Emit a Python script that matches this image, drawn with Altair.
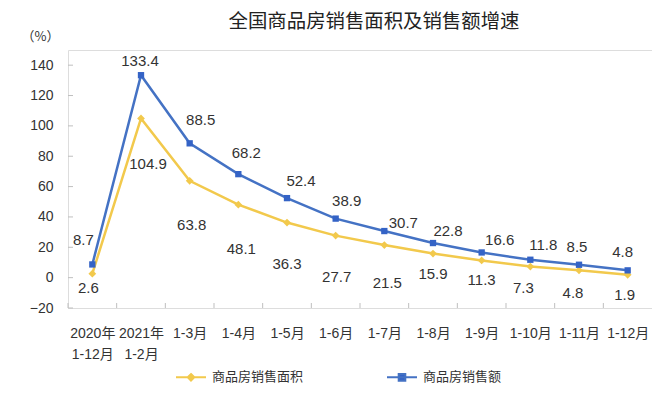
import altair as alt
import pandas as pd

categories = ["2020年\n1-12月", "2021年\n1-2月", "1-3月", "1-4月", "1-5月", "1-6月",
              "1-7月", "1-8月", "1-9月", "1-10月", "1-11月", "1-12月"]
series_names = ["商品房销售面积", "商品房销售额"]
area_growth = [2.6, 104.9, 63.8, 48.1, 36.3, 27.7, 21.5, 15.9, 11.3, 7.3, 4.8, 1.9]
sales_growth = [8.7, 133.4, 88.5, 68.2, 52.4, 38.9, 30.7, 22.8, 16.6, 11.8, 8.5, 4.8]
y_ticks = [-20, 0, 20, 40, 60, 80, 100, 120, 140]

# label nudges (pixels) reproducing the manual label placement of the source
area_label_dx = [-4, 7, 2, 3, 0, 1, 3, 0, 0, -7, -6, -3]
area_label_dy = [14, 46, 44, 44, 41, 41, 38, 20, 20, 21, 23, 20]
sales_label_dx = [-9, -1, 11, 8, 14, 11, 19, 15, 18, 13, -2, -5]
sales_label_dy = [-24, -14, -23, -21, -17, -18, -8, -12, -12, -15, -18, -18]

rows = []
for i, c in enumerate(categories):
    rows.append({"cat": c, "series": series_names[0], "value": area_growth[i],
                 "dx": area_label_dx[i], "dy": area_label_dy[i]})
    rows.append({"cat": c, "series": series_names[1], "value": sales_growth[i],
                 "dx": sales_label_dx[i], "dy": sales_label_dy[i]})
df = pd.DataFrame(rows)
ticks_df = pd.DataFrame({"t": y_ticks})
cat_df = pd.DataFrame({"cat": categories})

W, H = 584, 258
Y_MIN, Y_MAX = -20, 150
step = W / len(categories)
YELLOW = "#F2C94C"
BLUE = "#4472C4"
BLUE_MARK = "#3463C6"
DIGIT_FONT = "Liberation Sans, Noto Sans CJK SC"
CJK_FONT = "Noto Sans CJK SC"

xscale = alt.Scale(type="point", padding=0.5)
xaxis = alt.Axis(title=None, labelExpr="split(datum.label, '\\n')",
                 labelAngle=0, ticks=False, domain=False,
                 labelPadding=18, labelBaseline="top", labelLineHeight=21,
                 labelFont=DIGIT_FONT, labelFontSize=14, labelColor="#333333")
yscale = alt.Scale(domain=[Y_MIN, Y_MAX], nice=False, zero=False)
yaxis = alt.Axis(values=y_ticks, grid=False, ticks=False, domain=False,
                 title="（%）", titleAngle=0, titleX=-28, titleY=-14,
                 titleAlign="center", titleBaseline="middle",
                 titleFont=CJK_FONT, titleFontSize=13, titleFontWeight="normal",
                 titleColor="#333333",
                 labelPadding=15, labelFont=DIGIT_FONT, labelFontSize=14,
                 labelColor="#333333")

xenc = alt.X("cat:N", sort=categories, scale=xscale, axis=xaxis)
yenc = alt.Y("value:Q", scale=yscale, axis=yaxis)

base = alt.Chart(df)
area_base = base.transform_filter(alt.datum.series == series_names[0])
sales_base = base.transform_filter(alt.datum.series == series_names[1])

line_area = area_base.mark_line(strokeWidth=2.5, color=YELLOW).encode(x=xenc, y=yenc)
line_sales = sales_base.mark_line(strokeWidth=2.5, color=BLUE).encode(x=xenc, y=yenc)

pts_area = area_base.mark_point(shape="diamond", filled=True, size=60, opacity=1,
                                color=YELLOW).encode(x=xenc, y=yenc)
pts_sales = sales_base.mark_point(shape="square", filled=True, size=40, opacity=1,
                                  color=BLUE_MARK).encode(x=xenc, y=yenc)

# label anchor: pixel nudge converted through the y scale's resolution
px_per_unit = H / (Y_MAX - Y_MIN)
labels = base.transform_calculate(
    ly=f"datum.value - datum.dy / {px_per_unit}"
).mark_text(font="Liberation Sans", fontSize=15, color="#333333",
            align="center", baseline="middle").encode(
    x=xenc,
    y=alt.Y("ly:Q", scale=yscale, axis=yaxis),
    xOffset=alt.XOffset("dx:Q", scale=None),
    text=alt.Text("value:Q", format=".1f"),
)

ytick_rules = alt.Chart(ticks_df).mark_rule(color="#BFBFBF", strokeWidth=1).encode(
    y=alt.Y("t:Q", scale=yscale, axis=yaxis),
    x=alt.value(0), x2=alt.value(5),
)

xtick_rules = alt.Chart(cat_df).mark_rule(color="#BFBFBF", strokeWidth=1,
                                          xOffset=-step / 2).encode(
    x=alt.X("cat:N", sort=categories, scale=xscale, axis=xaxis),
    y=alt.value(H), y2=alt.value(H - 5),
)

legend_def = alt.Legend(title=None, orient="none", legendX=107, legendY=311,
                        direction="horizontal", symbolSize=900, symbolStrokeWidth=2,
                        symbolOpacity=1,
                        labelFont=CJK_FONT, labelFontSize=13, labelColor="#333333",
                        labelOffset=5, columnPadding=79)

legend_layer = base.mark_point(filled=True, size=10, opacity=0, strokeWidth=2).encode(
    x=xenc, y=yenc,
    color=alt.Color("series:N", scale=alt.Scale(domain=series_names,
                                                range=[YELLOW, BLUE_MARK]),
                    legend=legend_def),
    stroke=alt.Stroke("series:N", scale=alt.Scale(domain=series_names,
                                                  range=[YELLOW, BLUE]),
                      legend=legend_def),
    shape=alt.Shape("series:N", scale=alt.Scale(
        domain=series_names,
        range=["M-1,0H1M0,-0.22L0.22,0L0,0.22L-0.22,0Z",
               "M-1,0H1M-0.22,-0.22H0.22V0.22H-0.22Z"]),
        legend=legend_def),
)

chart = alt.layer(ytick_rules, xtick_rules, line_area, line_sales, pts_area, pts_sales,
                  labels, legend_layer).properties(
    width=W, height=H,
    autosize=alt.AutoSizeParams(type="none"),
    padding={"left": 60, "top": 42, "right": 0, "bottom": 77},
    title=alt.TitleParams("全国商品房销售面积及销售额增速", font=CJK_FONT, fontSize=19.4,
                          fontWeight="normal", color="#222222", anchor="middle",
                          dx=14, dy=2, offset=0),
).configure_view(stroke="#C8C8C8", strokeWidth=1).configure(background="white")

chart.save("out.html", embed_options={"renderer": "svg", "actions": False})
